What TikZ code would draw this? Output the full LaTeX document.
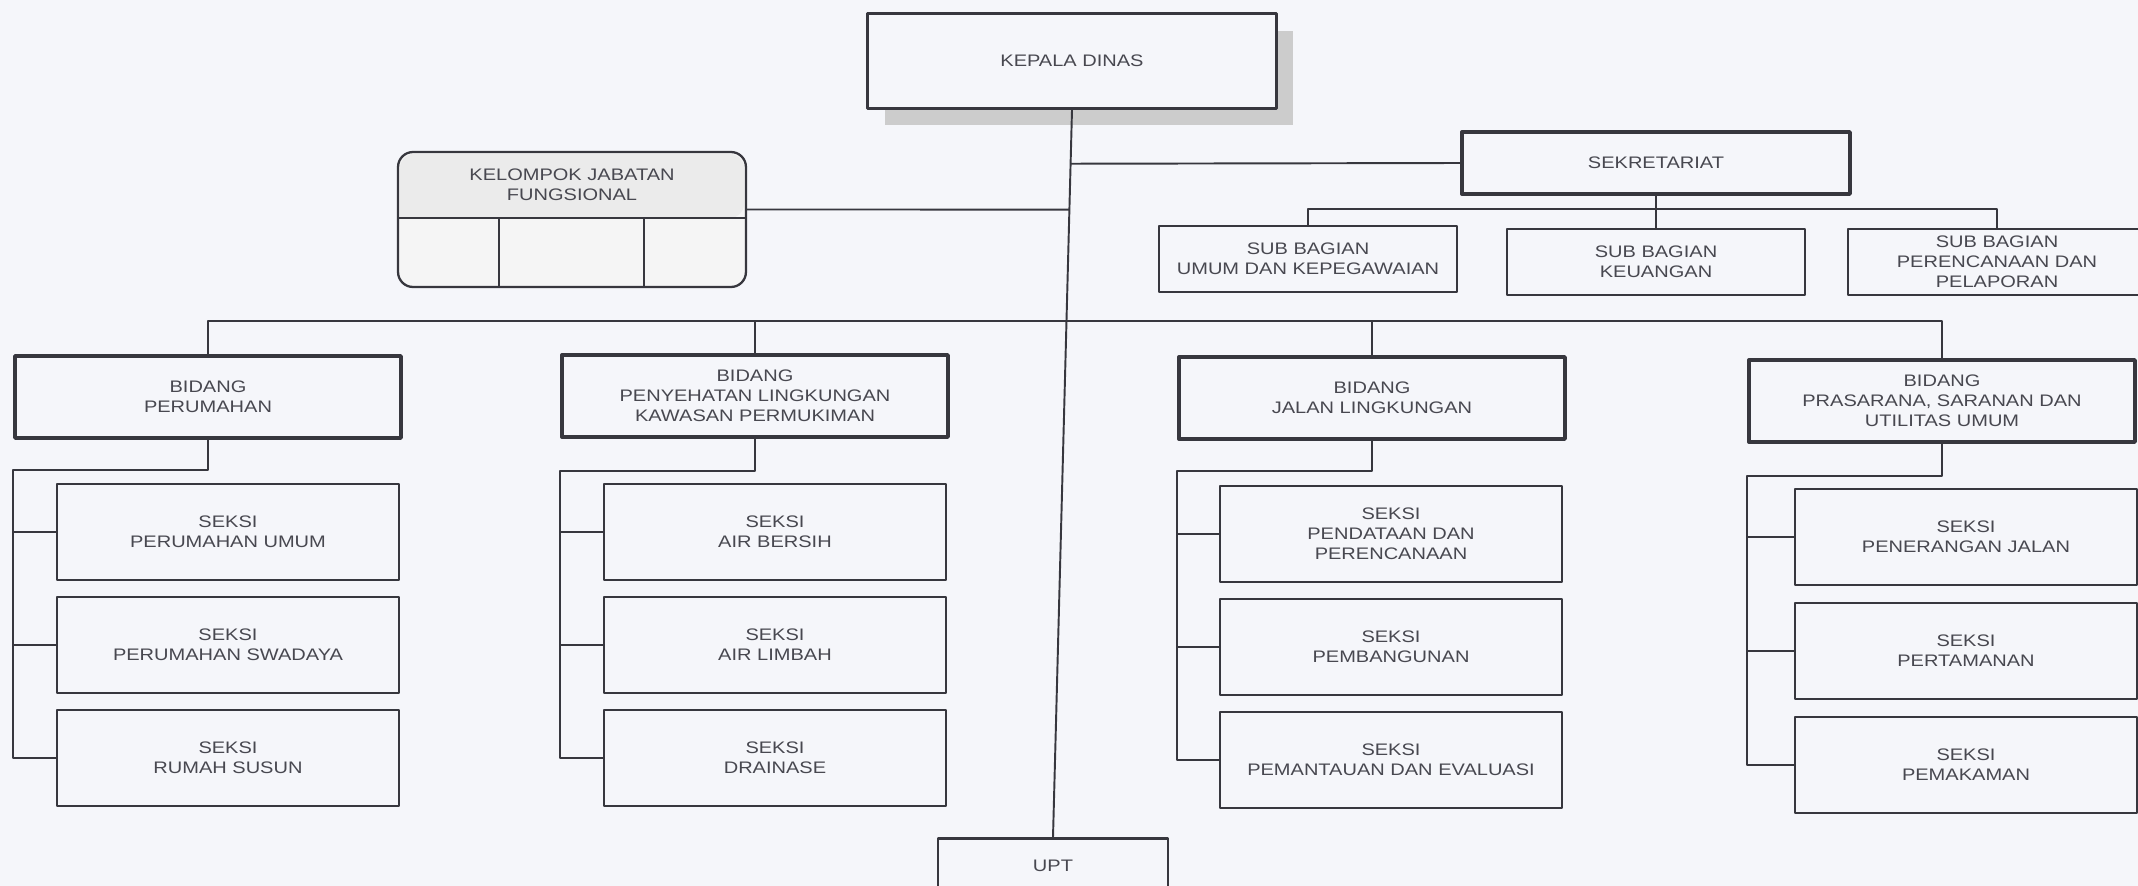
\documentclass[tikz,border=0pt]{standalone}
\usepackage{fontspec}
\setmainfont[FakeStretch=1.2]{Liberation Sans}
\usetikzlibrary{calc,shadows}
\definecolor{kertas}{RGB}{245,246,250}
\definecolor{garis}{RGB}{55,55,62}
\definecolor{huruf}{RGB}{72,72,80}

\begin{document}
\begin{tikzpicture}[x=0.02cm, y=-0.02cm, line join=round, font=\fontsize{9.5}{11.4}\selectfont,
		box/.style={draw=garis, line width=1.3pt, fill=kertas, text=huruf, align=center, inner sep=0pt},
		seksi/.style={box, minimum width=6.84cm, minimum height=1.92cm},
		bidang/.style={box, line width=2pt, minimum width=7.72cm, minimum height=1.64cm},
		subbag/.style={box, minimum width=5.96cm, minimum height=1.32cm},
		link/.style={draw=garis, line width=1.1pt}]
			\useasboundingbox (0,0) rectangle (2138,886);
			\clip (0,0) rectangle (2138,886);
			\fill[kertas] (0,0) rectangle (2138,886);
			% pimpinan dan sekretariat
			\node[box, line width=1.6pt, minimum width=8.18cm, minimum height=1.9cm, drop shadow={shadow xshift=0.34cm, shadow yshift=-0.34cm, fill=gray!40, opacity=1}] (kepala) at (1072,61) {KEPALA DINAS};
			\node[box, fill=gray!8, rounded corners=0.3cm, minimum width=6.96cm, minimum height=2.7cm] (kjf) at (572,219.5) {};
			\fill[gray!16, rounded corners=0.28cm] (400,154) -- (744,154) -- (744,218) [sharp corners] -- (400,218) [rounded corners=0.28cm] -- cycle;
			\node[text=huruf, align=center] (kjfteks) at (572,185) {KELOMPOK JABATAN\\FUNGSIONAL};
			\draw[link] (398,218) -- (746,218);
			\draw[link] (499,218) -- (499,287);
			\draw[link] (644,218) -- (644,287);
			\node[bidang, minimum width=7.76cm, minimum height=1.24cm] (sek) at (1656,163) {SEKRETARIAT};
			\node[subbag] (sub1) at (1308,259) {SUB BAGIAN\\UMUM DAN KEPEGAWAIAN};
			\node[subbag] (sub2) at (1656,262) {SUB BAGIAN\\KEUANGAN};
			\node[subbag] (sub3) at (1997,262) {SUB BAGIAN\\PERENCANAAN DAN\\PELAPORAN};
			% bidang
			\node[bidang] (bid1) at (208,397) {BIDANG\\PERUMAHAN};
			\node[bidang] (bid2) at (755,396) {BIDANG\\PENYEHATAN LINGKUNGAN\\KAWASAN PERMUKIMAN};
			\node[bidang] (bid3) at (1372,398) {BIDANG\\JALAN LINGKUNGAN};
			\node[bidang] (bid4) at (1942,401) {BIDANG\\PRASARANA, SARANAN DAN\\UTILITAS UMUM};
			% seksi
			\node[seksi] (s11) at (228,532) {SEKSI\\PERUMAHAN UMUM};
			\node[seksi] (s12) at (228,645) {SEKSI\\PERUMAHAN SWADAYA};
			\node[seksi] (s13) at (228,758) {SEKSI\\RUMAH SUSUN};
			\node[seksi] (s21) at (775,532) {SEKSI\\AIR BERSIH};
			\node[seksi] (s22) at (775,645) {SEKSI\\AIR LIMBAH};
			\node[seksi] (s23) at (775,758) {SEKSI\\DRAINASE};
			\node[seksi] (s31) at (1391,534) {SEKSI\\PENDATAAN DAN\\PERENCANAAN};
			\node[seksi] (s32) at (1391,647) {SEKSI\\PEMBANGUNAN};
			\node[seksi] (s33) at (1391,760) {SEKSI\\PEMANTAUAN DAN EVALUASI};
			\node[seksi] (s41) at (1966,537) {SEKSI\\PENERANGAN JALAN};
			\node[seksi] (s42) at (1966,651) {SEKSI\\PERTAMANAN};
			\node[seksi] (s43) at (1966,765) {SEKSI\\PEMAKAMAN};
			\node[box, minimum width=4.6cm, minimum height=1.1cm] (upt) at (1053,866) {UPT};
			% garis komando
			\draw[link] (kepala.south) -- (upt.north);
			\draw[link] ([yshift=0.2cm]kjf.east) -- ($(kepala.south)!0.137!(upt.north)$);
			\draw[link] (sek.west) -- ($(kepala.south)!0.074!(upt.north)$);
			\draw[link] (sek.south) -- (sub2.north);
			\draw[link] (sub1.north) -- ++(0,-16) -| (sub3.north);
			\draw[link] (bid1.north) -- ++(0,-33) -| (bid4.north);
			\draw[link] (bid2.north) -- ++(0,-33);
			\draw[link] (bid3.north) -- ++(0,-34);
			\draw[link] (bid1.south) -- ++(0,30) -| (bid1.west |- s13.west) -- (s13.west);
			\draw[link] (bid1.west |- s11.west) -- (s11.west);
			\draw[link] (bid1.west |- s12.west) -- (s12.west);
			\draw[link] (bid2.south) -- ++(0,32) -| (bid2.west |- s23.west) -- (s23.west);
			\draw[link] (bid2.west |- s21.west) -- (s21.west);
			\draw[link] (bid2.west |- s22.west) -- (s22.west);
			\draw[link] (bid3.south) -- ++(0,30) -| (bid3.west |- s33.west) -- (s33.west);
			\draw[link] (bid3.west |- s31.west) -- (s31.west);
			\draw[link] (bid3.west |- s32.west) -- (s32.west);
			\draw[link] (bid4.south) -- ++(0,32) -| (bid4.west |- s43.west) -- (s43.west);
			\draw[link] (bid4.west |- s41.west) -- (s41.west);
			\draw[link] (bid4.west |- s42.west) -- (s42.west);
		\end{tikzpicture}
\end{document}
